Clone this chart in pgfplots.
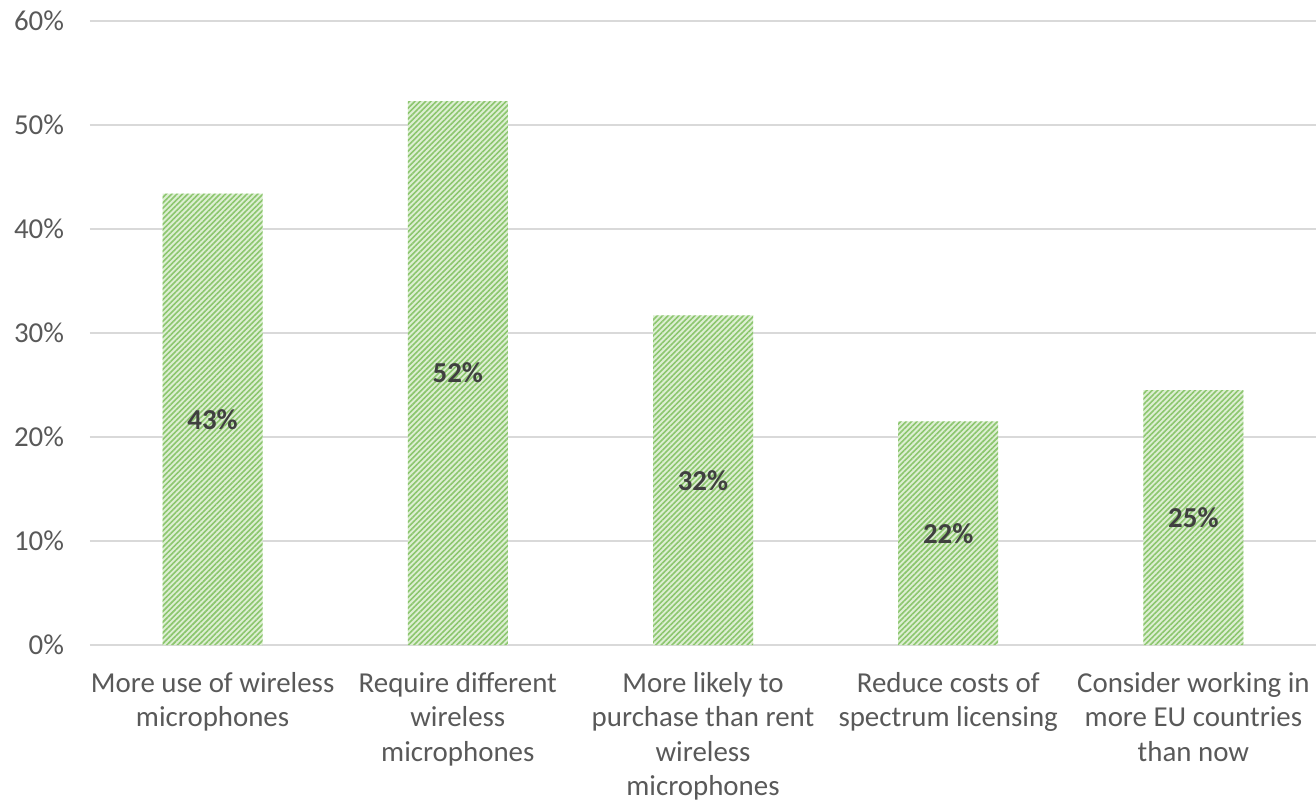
\documentclass[border=0pt]{standalone}
\usepackage{pgfplots}
\usepackage{pgfplotstable}
\pgfplotsset{compat=1.18}
\usetikzlibrary{patterns.meta}
\usepackage{fontspec}
\setmainfont{Carlito}
\definecolor{gridgray}{HTML}{D9D9D9}
\definecolor{ticktext}{HTML}{595959}
\definecolor{labtext}{HTML}{404040}
\definecolor{barlight}{HTML}{DDEFD3}
\definecolor{barstripe}{HTML}{8CC66E}

\pgfplotstableread{
x v lab
0 43.4 43\%
1 52.3 52\%
2 31.7 32\%
3 21.5 22\%
4 24.5 25\%
}\datatab

\begin{document}
\begin{tikzpicture}
\begin{axis}[
  scale only axis,
  width=613bp, height=312bp,
  xmin=-0.5, xmax=4.5,
  ymin=0, ymax=60,
  ytick={0,10,...,60},
  yticklabel={\pgfmathprintnumber{\tick}\%},
  /pgf/number format/assume math mode=true,
  xtick={0,1,2,3,4},
  xticklabels={
    {More use of wireless\\microphones},
    {Require different\\wireless\\microphones},
    {More likely to\\purchase than rent\\wireless\\microphones},
    {Reduce costs of\\spectrum licensing},
    {Consider working in\\more EU countries\\than now}},
  xticklabel style={align=center, font=\fontsize{14.5}{17.3}\selectfont, text=ticktext, yshift=-10bp},
  yticklabel style={font=\fontsize{14.5}{18}\selectfont, text=ticktext, xshift=-9.5bp},
  major tick length=0pt,
  axis line style={draw=none},
  ymajorgrids,
  grid style={gridgray, line width=1bp},
]
\addplot[ybar, bar width=50bp, draw=none, fill=barlight,
  postaction={pattern={Lines[angle=45,distance=1.9bp,line width=0.8bp]}, pattern color=barstripe}]
  table[x=x, y=v] {\datatab};
\addplot[draw=none, nodes near coords, point meta=explicit symbolic,
  every node near coord/.style={anchor=center, font=\fontsize{14.5}{18}\selectfont\bfseries, text=labtext}]
  table[x=x, y expr=\thisrow{v}/2, meta=lab] {\datatab};
\end{axis}
\pgfresetboundingbox
\path[use as bounding box] ([shift={(-45bp,-78bp)}]current axis.south west) rectangle ([shift={(0bp,10.5bp)}]current axis.north east);
\end{tikzpicture}
\end{document}
